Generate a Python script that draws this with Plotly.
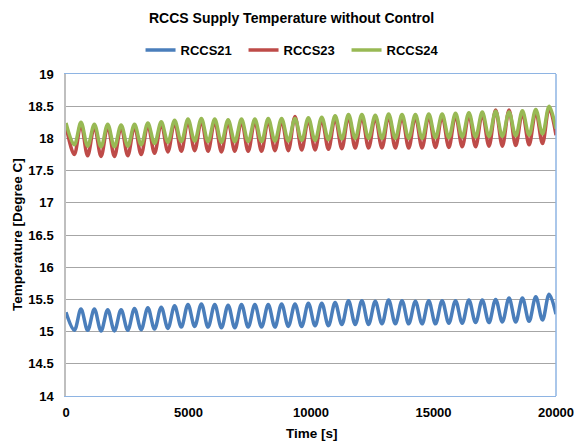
import plotly.graph_objects as go

# Time of oscillation extrema [s]
t_start = 0
t_end = 20000
t_trough = [338, 884, 1430, 1976, 2522, 3068, 3614, 4160, 4706, 5252, 5798, 6344,
            6890, 7436, 7982, 8528, 9074, 9620, 10166, 10712, 11258, 11804, 12350, 12896,
            13442, 13988, 14534, 15080, 15626, 16172, 16718, 17264, 17810, 18356, 18902, 19448]
t_peak = [611, 1157, 1703, 2249, 2795, 3341, 3887, 4433, 4979, 5525, 6071, 6617,
          7163, 7709, 8255, 8801, 9347, 9893, 10439, 10985, 11531, 12077, 12623, 13169,
          13715, 14261, 14807, 15353, 15899, 16445, 16991, 17537, 18083, 18629, 19175, 19721]

# RCCS21
r21_start, r21_end = 15.30, 15.27
r21_trough = [15.02, 15.02, 15.01, 15.01, 15.02, 15.03, 15.04, 15.05, 15.07, 15.08, 15.07, 15.06,
              15.06, 15.07, 15.07, 15.07, 15.08, 15.08, 15.09, 15.09, 15.11, 15.11, 15.11, 15.12,
              15.12, 15.12, 15.12, 15.12, 15.13, 15.13, 15.14, 15.14, 15.15, 15.15, 15.16, 15.18]
r21_peak = [15.35, 15.35, 15.34, 15.34, 15.36, 15.37, 15.38, 15.40, 15.42, 15.43, 15.42, 15.41,
            15.42, 15.42, 15.42, 15.43, 15.43, 15.44, 15.44, 15.45, 15.48, 15.48, 15.47, 15.49,
            15.48, 15.47, 15.48, 15.48, 15.48, 15.49, 15.49, 15.50, 15.52, 15.52, 15.54, 15.58]

# RCCS23
r23_start, r23_end = 18.20, 18.05
r23_trough = [17.75, 17.73, 17.72, 17.72, 17.73, 17.75, 17.77, 17.79, 17.80, 17.81, 17.80, 17.79,
              17.80, 17.80, 17.80, 17.81, 17.81, 17.82, 17.82, 17.83, 17.84, 17.85, 17.85, 17.85,
              17.85, 17.85, 17.85, 17.86, 17.86, 17.87, 17.87, 17.88, 17.88, 17.89, 17.90, 17.92]
r23_peak = [18.22, 18.19, 18.19, 18.18, 18.19, 18.21, 18.23, 18.25, 18.27, 18.28, 18.27, 18.26,
            18.27, 18.27, 18.28, 18.28, 18.34, 18.29, 18.30, 18.32, 18.34, 18.34, 18.33, 18.35,
            18.34, 18.34, 18.35, 18.35, 18.36, 18.37, 18.38, 18.44, 18.44, 18.40, 18.42, 18.47]

# RCCS24
r24_start, r24_end = 18.24, 18.15
r24_trough = [17.90, 17.88, 17.87, 17.87, 17.88, 17.90, 17.92, 17.94, 17.95, 17.96, 17.95, 17.94,
              17.95, 17.95, 17.95, 17.96, 17.96, 17.97, 17.97, 17.98, 17.99, 18.00, 18.00, 18.00,
              18.00, 18.00, 18.00, 18.01, 18.01, 18.02, 18.02, 18.03, 18.03, 18.04, 18.05, 18.07]
r24_peak = [18.25, 18.22, 18.22, 18.21, 18.22, 18.24, 18.26, 18.28, 18.30, 18.31, 18.30, 18.29,
            18.30, 18.30, 18.31, 18.31, 18.31, 18.32, 18.33, 18.35, 18.37, 18.37, 18.36, 18.38,
            18.37, 18.37, 18.38, 18.38, 18.39, 18.40, 18.41, 18.42, 18.41, 18.43, 18.45, 18.50]

series_names = ["RCCS21", "RCCS23", "RCCS24"]
y_ticks = [14, 14.5, 15, 15.5, 16, 16.5, 17, 17.5, 18, 18.5, 19]
y_tick_labels = ["14", "14.5", "15", "15.5", "16", "16.5", "17", "17.5", "18", "18.5", "19"]
x_ticks = [0, 5000, 10000, 15000, 20000]
x_tick_labels = ["0", "5000", "10000", "15000", "20000"]


def build(start, troughs, peaks, end):
    xs, ys = [t_start], [start]
    for tt, tv, pt, pv in zip(t_trough, troughs, t_peak, peaks):
        xs += [tt, pt]
        ys += [tv, pv]
    xs.append(t_end)
    ys.append(end)
    return xs, ys


data = [
    (r21_start, r21_trough, r21_peak, r21_end, "#4A7EBB"),
    (r23_start, r23_trough, r23_peak, r23_end, "#BE4B48"),
    (r24_start, r24_trough, r24_peak, r24_end, "#98B954"),
]

FONT = "Liberation Sans, Arial, sans-serif"
fig = go.Figure()
for name, (s, tr, pk, e, col) in zip(series_names, data):
    xs, ys = build(s, tr, pk, e)
    fig.add_trace(go.Scatter(x=xs, y=ys, mode="lines", name=name,
                             line=dict(color=col, width=3.5, shape="spline", smoothing=1.0)))

fig.update_layout(
    width=574, height=445,
    margin=dict(l=66, r=18, t=74, b=49, autoexpand=False),
    paper_bgcolor="white", plot_bgcolor="white",
    font=dict(family=FONT, size=13, color="#000000"),
    showlegend=True,
    legend=dict(orientation="h", xref="container", yref="container",
                x=0.514, y=1 - 50 / 445, xanchor="center", yanchor="middle",
                font=dict(family=FONT, size=13, color="#000000", weight="bold"),
                itemwidth=30, entrywidth=58, traceorder="normal"),
    xaxis=dict(range=[0, 20000], tickvals=x_ticks, ticktext=x_tick_labels,
               showgrid=False, zeroline=False, showline=True, linecolor="#8EB4E3",
               linewidth=1, mirror=True, ticks="", ticklabelstandoff=4,
               ticklabeloverflow="allow",
               tickfont=dict(family=FONT, size=13, color="#000000", weight="bold")),
    yaxis=dict(range=[14, 19], tickvals=y_ticks, ticktext=y_tick_labels,
               showgrid=True, gridcolor="#A6A6A6", gridwidth=1, zeroline=False,
               showline=True, linecolor="#BFBFBF", linewidth=1.5, ticks="",
               ticklabelstandoff=8,
               tickfont=dict(family=FONT, size=13, color="#000000", weight="bold")),
    annotations=[
        dict(text="<b>RCCS Supply Temperature without Control</b>", xref="paper", yref="paper",
             x=(291 - 66) / 490, y=1 + (74 - 18) / 322, xanchor="center", yanchor="middle",
             showarrow=False, font=dict(family=FONT, size=14, color="#000000")),
        dict(text="<b>Time [s]</b>", xref="paper", yref="paper",
             x=(312 - 66) / 490, y=-(434 - 396) / 322, xanchor="center", yanchor="middle",
             showarrow=False, font=dict(family=FONT, size=13.5, color="#000000")),
        dict(text="<b>Temperature [Degree C]</b>", xref="paper", yref="paper",
             x=-(66 - 17) / 490, y=0.5, xanchor="center", yanchor="middle", textangle=-90,
             showarrow=False, font=dict(family=FONT, size=13.5, color="#000000")),
    ],
    shapes=[dict(type="line", xref="paper", yref="paper", x0=1, x1=1, y0=0, y1=1,
                 line=dict(color="#8EB4E3", width=1.5))],
)

fig.write_html("out.html")
